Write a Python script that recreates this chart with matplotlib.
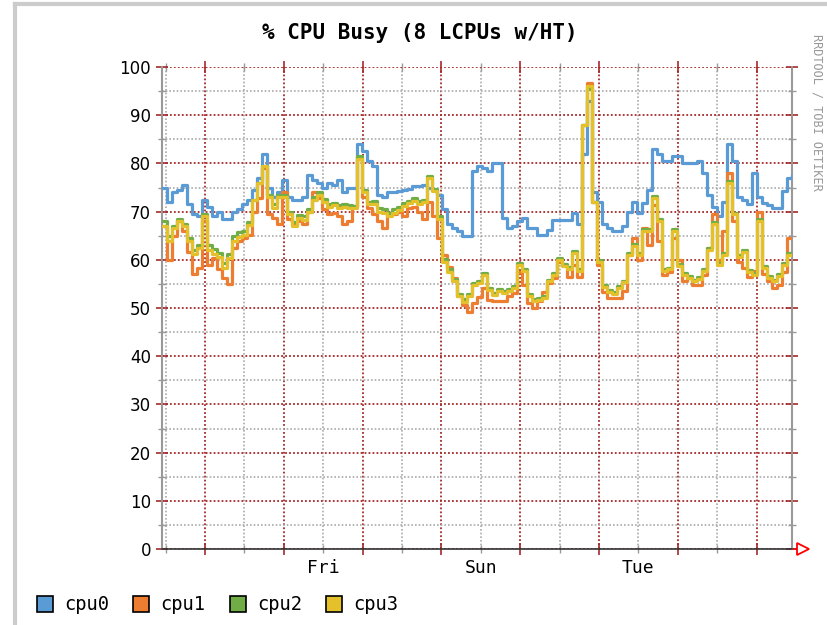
import numpy as np
import matplotlib.pyplot as plt
from matplotlib.lines import Line2D
from matplotlib.patches import Rectangle

# rrd samples, about one every 1.5 h, first one ~13 h before the first midnight
start_day = -0.546
sample_step = 1.523 / 24

cpu0 = [75, 72, 74, 74.5, 75.5, 71.5, 69.5, 69, 72.5, 71,
        69, 70, 68.5, 68.5, 70, 70.5, 71.5, 72.5, 74.5, 77,
        82, 75, 73, 74, 76.5, 73, 72.5, 72.5, 73, 77.5,
        76.5, 76, 75, 76, 75.5, 76.5, 74, 75, 75, 84,
        82.5, 80.5, 79.5, 73.5, 73, 74, 74, 74.3, 74.5, 74.6,
        75.3, 75.3, 75.5, 75, 74.5, 73.5, 70.5, 67.5, 66.5, 66,
        65, 65, 78.5, 79.5, 79, 78.5, 80, 80, 68.6, 66.5,
        67, 68, 68.6, 66.5, 66.5, 65.2, 65.2, 66.2, 68.2, 68.3,
        68.3, 68.3, 69.7, 67.5, 82, 93, 74, 72, 67.5, 66.5,
        66, 66, 67, 70, 72, 69.8, 71.8, 74.5, 83, 82,
        80.5, 80.5, 81.5, 81.5, 80, 80, 80, 80.5, 78, 73.5,
        71, 69, 72, 84, 80.5, 73, 72.5, 71.5, 78, 73,
        71.8, 71.3, 70.8, 70.8, 74.2, 77, 77.4]

cpu1 = [67, 60, 65, 68, 66, 61.7, 57, 58.3, 68, 59,
        60.3, 58, 56.2, 55, 62.4, 63.8, 64.5, 65.2, 70, 72.8,
        79, 69.4, 68.7, 67.5, 74, 68.5, 67.3, 68, 67.5, 70,
        74, 72.8, 70.5, 69.4, 69.8, 69, 67.5, 68, 71, 81,
        73, 70.8, 69.4, 68, 66.5, 69.4, 69.5, 70, 69, 70.8,
        71, 70, 68.5, 72, 69, 64.5, 61, 58.5, 56.2, 52.5,
        50.6, 49.2, 51, 52.3, 54.1, 51.6, 51.4, 51.5, 51.4, 52.5,
        53.1, 57.5, 54.8, 51, 50, 51.5, 53.4, 55.2, 56.2, 59.5,
        59, 56.5, 59, 56.5, 88, 96.6, 72, 59, 53.3, 52,
        52, 52, 53.5, 61, 64.5, 60, 66.6, 63, 71.3, 64,
        56.9, 57.5, 64.5, 60, 55.5, 56.2, 54.8, 54.8, 56.9, 62.5,
        69.4, 60, 66, 78, 68, 59.6, 58.3, 56.5, 57.6, 70,
        57, 55.5, 54.1, 54.8, 57.5, 64.5, 64.5]

cpu2 = [68, 65, 67, 68.5, 67.5, 64.5, 62, 63, 69.5, 63,
        62.3, 61.5, 59.3, 61.3, 65, 65.8, 66, 67.8, 72.5, 76,
        79.5, 73.5, 71.5, 73.5, 73.5, 70, 67.8, 69.3, 69, 70.6,
        73, 74, 72.7, 71.6, 71.8, 71.4, 71.5, 71.3, 71.2, 81.5,
        74.5, 72, 72.2, 70.8, 70.5, 69.8, 70.5, 71, 71.8, 72.3,
        72.8, 72.2, 72.5, 77.3, 74.6, 69, 60.2, 58, 56, 53,
        51.8, 52.9, 55.2, 55.6, 57.3, 54.2, 53.2, 54, 53.5, 54,
        54.5, 59.4, 58, 53, 51.9, 52, 52.5, 55.9, 57.3, 60.4,
        59.2, 58.5, 61.9, 58, 88, 95.5, 72, 60, 54.7, 53.8,
        53.4, 54.5, 55.7, 61.4, 63.2, 61.4, 66.3, 66.3, 73.2, 68.4,
        58, 58.4, 66.3, 59.2, 57.3, 56.7, 55.9, 56.4, 58, 62.4,
        67.9, 59.4, 61.4, 76.4, 69.8, 60.9, 62.1, 57.9, 57.3, 68.4,
        58.7, 56.7, 55.9, 57.1, 59.4, 61.4, 61.4]

cpu3 = [67, 64, 66.5, 68, 67, 63.8, 61.3, 62.4, 69, 62,
        61.3, 60.5, 58.3, 60.3, 64, 64.8, 65.2, 67.3, 72.5, 76,
        79.5, 73, 70.8, 73, 73, 69.4, 67, 68.7, 68.3, 70,
        72.5, 73.5, 72, 71, 71.3, 70.8, 71, 70.8, 70.7, 81,
        74, 71.5, 71.5, 70, 69.7, 69, 69.8, 70.4, 71.2, 71.8,
        72.2, 71.5, 72, 77, 74.2, 68.5, 59.6, 57.5, 55.5, 52.5,
        51.3, 52.5, 54.8, 55.2, 56.9, 53.8, 52.8, 53.6, 53.1, 53.6,
        54.1, 59, 57.6, 52.5, 51.4, 51.6, 52, 55.5, 56.9, 60,
        58.8, 58.1, 61.5, 57.6, 88, 96, 72, 59.6, 54.3, 53.4,
        53, 54.1, 55.3, 61, 62.8, 61, 65.9, 65.9, 72.8, 68,
        57.6, 58, 65.9, 58.8, 56.9, 56.3, 55.5, 56, 57.6, 62,
        67.5, 59, 61, 76, 69.4, 60.5, 61.7, 57.5, 56.9, 68,
        58.3, 56.3, 55.5, 56.7, 59, 61, 61]

series_names = ['cpu0', 'cpu1', 'cpu2', 'cpu3']
series_colors = ['#5b9bd5', '#ed7d31', '#70ad47', '#e4c12b']
day_labels = ['Fri', 'Sun', 'Tue']
title = '% CPU Busy (8 LCPUs w/HT)'

W, H = 828, 625
fig = plt.figure(figsize=(W / 100, H / 100), dpi=100)
ax = fig.add_axes([162 / W, 1 - 549 / H, 630 / W, 482 / H])

t = start_day + sample_step * np.arange(len(cpu0))
for vals, col in zip([cpu0, cpu1, cpu2, cpu3], series_colors):
    ax.plot(t, vals, drawstyle='steps-post', color=col, lw=2.3, zorder=3)

ax.set_xlim(start_day, 7.45)
ax.set_ylim(0, 100)

# grid: red dotted on days / tens, grey dotted on half days / fives
red = '#a52a2a'
ax.set_xticks(np.arange(0, 8))
ax.set_xticklabels([])
halves = np.arange(-0.5, 7.5, 1)
ax.set_xticks(halves, minor=True)
minor_lbl = [''] * len(halves)
for k, d in enumerate(day_labels):
    minor_lbl[2 + 2 * k] = d
ax.set_xticklabels(minor_lbl, minor=True)
ax.set_yticks(np.arange(0, 101, 10))
ax.set_yticks(np.arange(5, 100, 10), minor=True)

ax.grid(which='major', color=red, linestyle=(0, (1, 1.2)), lw=1.3, zorder=1)
ax.grid(which='minor', color='#aaaaaa', linestyle=(0, (1, 1.2)), lw=1.2, zorder=1)
ax.set_axisbelow(True)

ax.tick_params(which='both', right=True, top=True)
ax.tick_params(which='major', direction='inout', length=8, width=1.2, color=red)
ax.tick_params(which='minor', direction='inout', length=6, width=1, color='#999999')
ax.tick_params(axis='y', labelsize=12, pad=4)
ax.tick_params(axis='x', which='minor', labelsize=13, pad=4, labelfontfamily='DejaVu Sans Mono')

ax.spines['top'].set_visible(False)
for s in ['left', 'right']:
    ax.spines[s].set_color('#999999')
    ax.spines[s].set_linewidth(1.5)
ax.spines['bottom'].set_color('#333333')
ax.spines['bottom'].set_linewidth(1.2)

# red arrow at the end of the time axis
ax.plot([1.0, 1.012], [0, 0], color='red', lw=1.2, transform=ax.transAxes, clip_on=False)
ax.plot(1.018, 0, marker='>', ms=8, mfc='white', mec='red', mew=1.3,
        transform=ax.transAxes, clip_on=False)

fig.text(420 / W, 1 - 33 / H, title, ha='center', va='center', fontsize=15,
         family='DejaVu Sans Mono', weight='bold')
fig.text(817 / W, 1 - 112 / H, 'RRDTOOL / TOBI OETIKER', rotation=270, ha='center',
         va='center', fontsize=8.5, family='DejaVu Sans Mono', color='#999999')

# legend drawn by hand, rrdtool style
for k, (name, col) in enumerate(zip(series_names, series_colors)):
    x0 = 37 + 96.5 * k
    fig.patches.append(Rectangle((x0 / W, 1 - 612 / H), 16 / W, 16 / H,
                                 transform=fig.transFigure, facecolor=col,
                                 edgecolor='black', lw=1.2))
    fig.text((x0 + 27) / W, 1 - 604 / H, name, va='center', fontsize=13.5,
             family='DejaVu Sans Mono')

# light grey frame on top and left
fig.add_artist(Line2D([15 / W, 1], [1 - 3.5 / H, 1 - 3.5 / H], color='#cccccc', lw=3))
fig.add_artist(Line2D([15 / W, 15 / W], [0, 1 - 3.5 / H], color='#cccccc', lw=3))

fig.savefig('out.png', dpi=100, facecolor='white')
